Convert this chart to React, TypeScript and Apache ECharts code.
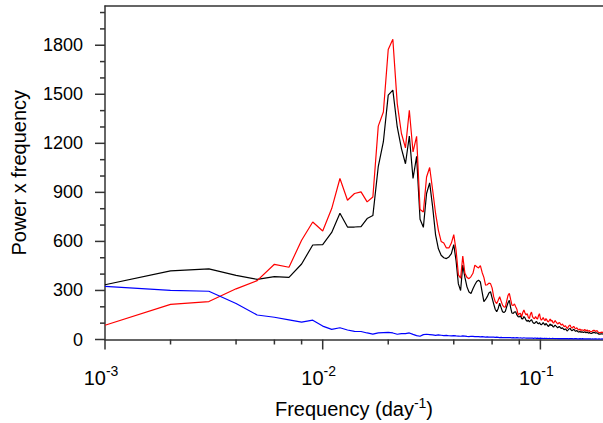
import React, { useEffect, useRef } from "react";
import * as echarts from "echarts";

const FREQ_STEP = 0.001;
const X_MIN = 0.001;
const X_MAX = 0.1939;
const Y_MIN = 0;
const Y_MAX = 2040;

const X_MAJOR_TICKS = [0.001, 0.01, 0.1];
const X_MINOR_TICKS = [0.002, 0.004, 0.006, 0.008, 0.02, 0.04, 0.06, 0.08];
const Y_MAJOR_TICKS = [0, 300, 600, 900, 1200, 1500, 1800];
const Y_MINOR_TICKS = [100, 200, 400, 500, 700, 800, 1000, 1100, 1300, 1400, 1600, 1700, 1900, 2000];

const blackValues = [
  335, 420, 432, 392, 368, 385, 380, 462, 578, 580,
  655, 772, 688, 688, 690, 740, 758, 1058, 1210, 1495,
  1525, 1300, 1168, 1075, 1245, 985, 1120, 735, 686, 893,
  958, 810, 640, 555, 515, 500, 495, 505, 525, 580,
  480, 340, 300, 455, 380, 322, 290, 282, 310, 335,
  355, 363, 352, 290, 232, 245, 262, 285, 292, 255,
  218, 185, 170, 190, 222, 195, 170, 165, 172, 200,
  225, 240, 195, 162, 160, 168, 170, 150, 140, 138,
  145, 128, 125, 140, 132, 118, 112, 118, 108, 115,
  122, 108, 100, 98, 105, 110, 100, 96, 104, 94,
  90, 96, 104, 95, 88, 98, 92, 84, 80, 88,
  95, 85, 90, 80, 76, 84, 88, 82, 77, 72,
  75, 80, 76, 70, 67, 72, 68, 62, 60, 65,
  62, 56, 52, 58, 64, 66, 68, 60, 56, 54,
  58, 62, 60, 55, 50, 52, 56, 51, 48, 45,
  47, 50, 45, 43, 47, 49, 45, 42, 45, 48,
  44, 41, 43, 46, 42, 39, 41, 43, 40, 38,
  37, 36, 39, 42, 41, 44, 45, 42, 39, 38,
  41, 43, 39, 36, 35, 33, 35, 33, 32, 35,
  37, 35, 34, 33, 34,
];

const redValues = [
  87, 215, 232, 310, 360, 460, 442, 607, 719, 664,
  801, 985, 852, 893, 903, 842, 872, 1305, 1392, 1774,
  1837, 1443, 1260, 1172, 1402, 1147, 1243, 795, 780, 994,
  1052, 913, 771, 668, 600, 590, 560, 560, 590, 642,
  545, 395, 375, 510, 405, 380, 372, 385, 405, 455,
  445, 438, 452, 410, 380, 332, 335, 345, 342, 316,
  262, 232, 220, 240, 262, 235, 210, 200, 198, 235,
  270, 282, 245, 210, 208, 218, 200, 185, 150, 158,
  160, 138, 165, 180, 162, 150, 158, 135, 128, 155,
  168, 140, 130, 128, 140, 130, 125, 145, 158, 130,
  118, 125, 135, 122, 115, 128, 120, 110, 108, 118,
  125, 112, 118, 105, 100, 110, 115, 108, 102, 95,
  98, 105, 100, 92, 88, 95, 90, 82, 78, 85,
  80, 72, 67, 75, 82, 85, 88, 78, 72, 70,
  75, 80, 77, 70, 65, 68, 72, 66, 62, 58,
  60, 64, 58, 55, 60, 62, 57, 54, 58, 62,
  56, 52, 55, 58, 54, 50, 52, 55, 50, 48,
  47, 46, 50, 54, 52, 56, 58, 54, 50, 48,
  52, 55, 50, 46, 44, 42, 45, 42, 40, 44,
  47, 45, 43, 42, 44,
];

const blueValues = [
  325, 301, 295, 220, 150, 136, 120, 106, 118, 82,
  62, 72, 58, 50, 49, 40, 33, 40, 42, 44,
  40, 32, 36, 36, 40, 31, 24, 20, 30, 32,
  30, 28, 25, 28, 26, 24, 25, 23, 22, 24,
  22, 21, 20, 22, 21, 19, 18, 20, 19, 18,
  17, 18, 16, 17, 16, 15, 16, 15, 14, 15,
  14, 13, 14, 13, 12, 13, 12, 12, 11, 12,
  11, 12, 11, 10, 11, 10, 10, 11, 10, 9,
  10, 9, 9, 10, 9, 8, 9, 8, 8, 9,
  8, 8, 7, 8, 8, 7, 8, 7, 7, 8,
  7, 7, 6, 7, 7, 6, 7, 6, 6, 7,
  6, 6, 6, 7, 6, 6, 5, 6, 6, 5,
  6, 5, 5, 6, 5, 5, 6, 5, 5, 5,
  6, 5, 5, 5, 4, 5, 5, 5, 4, 5,
  5, 4, 5, 5, 4, 5, 4, 4, 5, 4,
  4, 5, 4, 4, 4, 5, 4, 4, 4, 4,
  4, 4, 5, 4, 4, 4, 3, 4, 4, 4,
  4, 3, 4, 4, 4, 3, 4, 4, 3, 4,
  4, 3, 4, 3, 4, 4, 3, 3, 4, 3,
  3, 4, 3, 3, 3,
];

const FONT = "'Liberation Sans', Arial, Helvetica, sans-serif";
const AXIS_COLOR = "#333";

const toPairs = (vals: number[]) =>
  vals.map((v, i) => [Number(((i + 1) * FREQ_STEP).toFixed(3)), v]);

const rich = {
  b: { fontSize: 20, fontFamily: FONT, color: "#000", lineHeight: 20 },
  s: { fontSize: 14, fontFamily: FONT, color: "#000", lineHeight: 14, padding: [0, 0, 13, 0] },
};

export default function App() {
  const ref = useRef<HTMLDivElement>(null);
  useEffect(() => {
    if (!ref.current) return;
    const chart = echarts.init(ref.current, undefined, { renderer: "svg" });
    const tickData = [
      ...X_MAJOR_TICKS.map((v) => [v, Y_MIN, 0]),
      ...X_MINOR_TICKS.map((v) => [v, Y_MIN, 1]),
      ...Y_MAJOR_TICKS.map((v) => [X_MIN, v, 2]),
      ...Y_MINOR_TICKS.map((v) => [X_MIN, v, 3]),
    ];
    const lineSeries = (name: string, vals: number[], color: string) => ({
      name,
      type: "line",
      data: toPairs(vals),
      showSymbol: false,
      symbol: "none",
      lineStyle: { color, width: 1.2 },
      itemStyle: { color },
      silent: true,
      z: 3,
    });
    chart.setOption({
      animation: false,
      backgroundColor: "#fff",
      grid: {
        left: 105,
        right: 0,
        top: 6,
        bottom: 83.5,
        containLabel: false,
        outerBoundsMode: "none",
      },
      xAxis: [
        {
          type: "log",
          logBase: 10,
          min: X_MIN,
          max: X_MAX,
          position: "bottom",
          axisLine: { show: true, onZero: false, lineStyle: { color: AXIS_COLOR, width: 1.5 } },
          axisTick: { show: false },
          splitLine: { show: false },
          minorTick: { show: false },
          axisLabel: {
            margin: 28,
            padding: [0, 8, 0, 0],
            formatter: (v: number) => {
              const e = Math.log10(v);
              const r = Math.round(e);
              if (Math.abs(e - r) > 1e-6) return "";
              return `{b|10}{s|${r}}`;
            },
            rich,
          },
          name: "{b|Frequency (day}{s|-1}{b|)}",
          nameLocation: "middle",
          nameGap: 56,
          nameTextStyle: { rich },
        },
        {
          type: "log",
          logBase: 10,
          min: X_MIN,
          max: X_MAX,
          position: "top",
          axisLine: { show: true, onZero: false, lineStyle: { color: AXIS_COLOR, width: 1.5 } },
          axisTick: { show: false },
          axisLabel: { show: false },
          splitLine: { show: false },
        },
      ],
      yAxis: {
        type: "value",
        min: Y_MIN,
        max: Y_MAX,
        interval: 300,
        axisLine: { show: true, onZero: false, lineStyle: { color: AXIS_COLOR, width: 1.5 } },
        axisTick: { show: false },
        splitLine: { show: false },
        axisLabel: {
          margin: 22,
          fontSize: 18,
          fontFamily: FONT,
          color: "#000",
          formatter: (v: number) => (v % 300 === 0 && v <= 1800 ? String(v) : ""),
        },
        name: "Power x frequency",
        nameLocation: "middle",
        nameGap: 76,
        nameTextStyle: { fontSize: 20, fontFamily: FONT, color: "#000" },
      },
      series: [
        lineSeries("black", blackValues, "#000000"),
        lineSeries("red", redValues, "#ff0000"),
        lineSeries("blue", blueValues, "#0000ff"),
        {
          type: "custom",
          silent: true,
          clip: false,
          z: 5,
          data: tickData,
          encode: { x: 0, y: 1 },
          renderItem: (params: any, api: any) => {
            const kind = api.value(2);
            const p = api.coord([api.value(0), api.value(1)]);
            const len = kind % 2 === 0 ? 10 : 5;
            const shape =
              kind < 2
                ? { x1: p[0], y1: p[1], x2: p[0], y2: p[1] + len }
                : { x1: p[0] - len, y1: p[1], x2: p[0], y2: p[1] };
            return { type: "line", shape, style: { stroke: AXIS_COLOR, lineWidth: 1.5 } };
          },
        },
      ],
    });
    return () => chart.dispose();
  }, []);
  return (
    <div
      ref={ref}
      style={{ position: "absolute", left: 0, top: 0, width: 603, height: 423 }}
    />
  );
}
